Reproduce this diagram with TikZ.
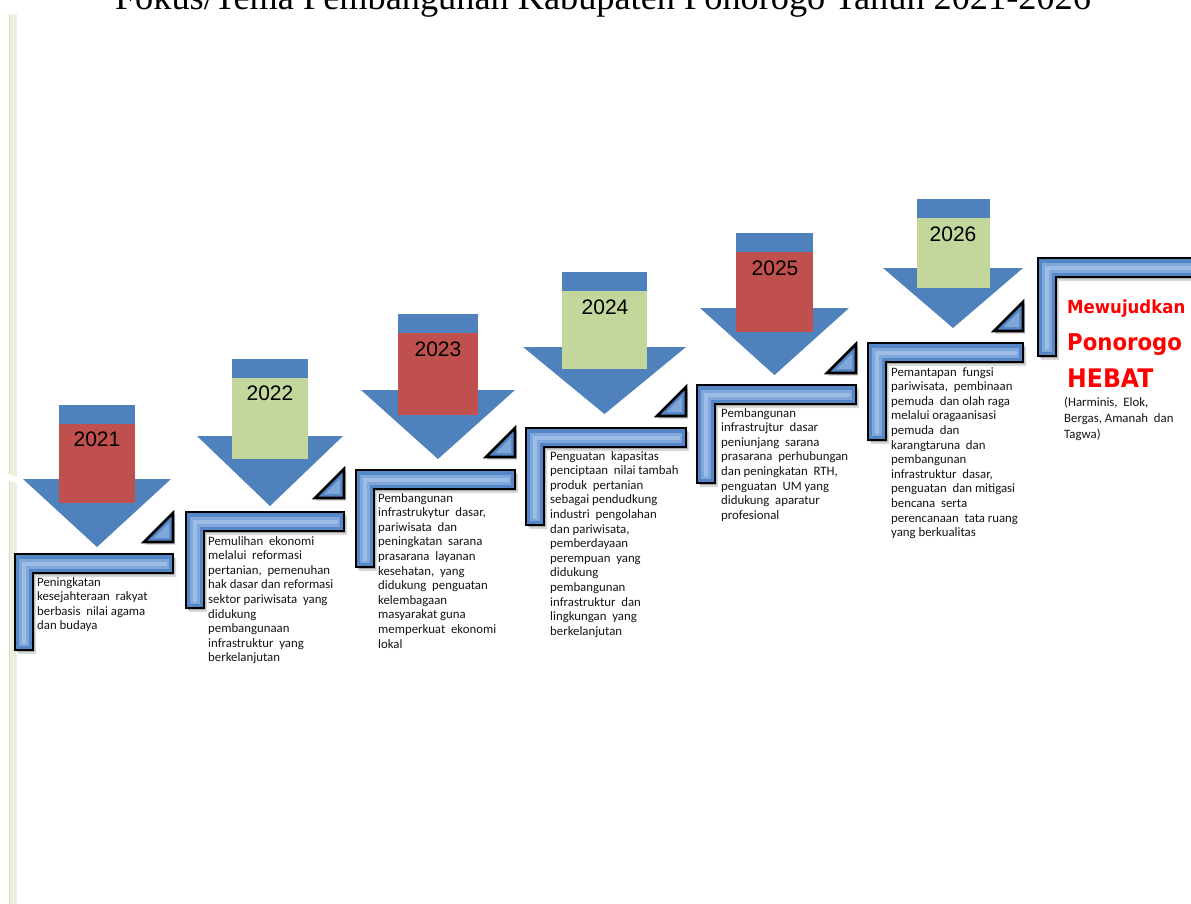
\documentclass[tikz,border=0pt]{standalone}
\usepackage{fontspec}
\setmainfont{Liberation Serif}
\newfontfamily\descfont{Carlito}
\newfontfamily\yearfont{Liberation Sans}
\newfontfamily\redfont[FakeStretch=0.92]{DejaVu Sans}
\definecolor{abl}{HTML}{4F81BD}
\definecolor{ared}{HTML}{C0504D}
\definecolor{agreen}{HTML}{C3D69B}
\definecolor{lblue}{HTML}{5587C8}
\definecolor{lmid}{HTML}{80A7DA}
\definecolor{llight}{HTML}{A6C3EA}
\definecolor{barfill}{HTML}{EBF1DE}
\definecolor{baredge}{HTML}{D4E0BC}
\definecolor{dtext}{HTML}{141414}
\definecolor{hred}{HTML}{FF0000}
\tikzset{
  shaft/.style={fill=abl, draw=none},
  redbox/.style={fill=ared, draw=none},
  greenbox/.style={fill=agreen, draw=none},
  lbody/.style={fill=lblue, draw=black, line width=2.6pt, line join=miter},
  lhigh/.style={draw=lmid, line width=10pt, line join=miter},
  lhightwo/.style={draw=llight, line width=4pt, line join=miter, opacity=.8},
  shadowA/.style={fill=black, opacity=.14, draw=none},
  shadowB/.style={fill=black, opacity=.22, draw=none},
  desc/.style={anchor=north west, inner sep=0pt, align=left, text=dtext,
    font=\descfont\fontsize{12.8}{14.6}\selectfont},
  yearlbl/.style={anchor=base, inner sep=0pt, text=black,
    font=\yearfont\fontsize{21}{24}\selectfont},
  hebat/.style={anchor=base west, inner sep=0pt, text=hred},
}
% L-shaped frame: #1 x0, #2 y0 (outer top-left), #3 right end x, #4 bottom y
\newcommand\LFrame[4]{%
  \fill[shadowA] ({#1+3},{#2+4}) -- ({#3+3},{#2+4}) -- ({#3+3},{#2+23}) -- ({#1+21},{#2+23}) -- ({#1+21},{#4+4}) -- ({#1+3},{#4+4}) -- cycle;
  \fill[shadowB] ({#1+1.5},{#2+2}) -- ({#3+1.5},{#2+2}) -- ({#3+1.5},{#2+21}) -- ({#1+19.5},{#2+21}) -- ({#1+19.5},{#4+2}) -- ({#1+1.5},{#4+2}) -- cycle;
  \filldraw[lbody] (#1,#2) -- (#3,#2) -- (#3,{#2+19}) -- ({#1+18},{#2+19}) -- ({#1+18},#4) -- (#1,#4) -- cycle;
  \draw[lhigh] ({#3-4},{#2+9.5}) -- ({#1+9},{#2+9.5}) -- ({#1+9},{#4-4});
  \draw[lhightwo] ({#3-6},{#2+9.5}) -- ({#1+9},{#2+9.5}) -- ({#1+9},{#4-6});
}
% corner triangle: #1 right x, #2 base y
\newcommand\CornerTri[2]{%
  \fill[shadowB] ({#1-28},{#2+2.5}) -- ({#1+2},{#2+2.5}) -- ({#1+2},{#2-27}) -- cycle;
  \filldraw[lbody] ({#1-29},#2) -- (#1,#2) -- (#1,{#2-29}) -- cycle;
  \fill[lmid] ({#1-19.3},{#2-4}) -- ({#1-4},{#2-4}) -- ({#1-4},{#2-19.3}) -- cycle;
}
% year arrow: #1 box left, #2 box right, #3 stem top, #4 box bottom,
% #5 triangle top, #6 tri left, #7 tri right, #8 tip y, #9 box style
\newcommand\YearArrow[9]{%
  \fill[shaft] (#1,#3) rectangle (#2,#5);
  \fill[shaft] (#6,#5) -- (#7,#5) -- ({(#6+#7)/2},#8) -- cycle;
  \fill[#9] (#1,{#3+19}) rectangle (#2,#4);
}
\begin{document}
\begin{tikzpicture}[x=1pt,y=-1pt]
\useasboundingbox (0,0) rectangle (1191,904);
\clip (0,0) rectangle (1191,904);
\fill[white] (0,0) rectangle (1191,904);

% title
\node[anchor=base, inner sep=0pt, font=\fontsize{36.3}{40}\selectfont] (title) at (603,10)
  {Fokus/Tema Pembangunan Kabupaten Ponorogo Tahun 2021-2026};

% left bar
\fill[barfill] (9,14) rectangle (17,904);
\draw[baredge, line width=1pt] (9.5,14) -- (9.5,904);
\fill[white] (9,474) -- (23,479) -- (16,483) -- (9,481) -- cycle;

% arrows
\YearArrow{59}{135}{405}{503}{479}{23}{171}{547}{redbox}
\YearArrow{232}{308}{359}{459}{436}{197}{343}{506}{greenbox}
\YearArrow{398}{478}{314}{415}{390}{361}{515}{459}{redbox}
\YearArrow{562}{647}{272}{369}{347}{523}{686}{414}{greenbox}
\YearArrow{736}{813}{233}{332}{308}{700}{849}{375}{redbox}
\YearArrow{917}{990}{199}{288}{268}{883}{1023}{328}{greenbox}

\node[yearlbl] (y2021) at (97,446) {2021};
\node[yearlbl] (y2022) at (270,400) {2022};
\node[yearlbl] (y2023) at (438,356) {2023};
\node[yearlbl] (y2024) at (605,314) {2024};
\node[yearlbl] (y2025) at (775,275) {2025};
\node[yearlbl] (y2026) at (953,241) {2026};

% frames and corner triangles
\LFrame{15}{554}{173}{650}
\CornerTri{173}{542}
\LFrame{186}{512}{344}{608}
\CornerTri{344}{498}
\LFrame{356}{470}{515}{567}
\CornerTri{515}{457}
\LFrame{526}{428}{686}{525}
\CornerTri{686}{416}
\LFrame{697}{385}{856}{483}
\CornerTri{856}{373}
\LFrame{868}{343}{1023}{440}
\CornerTri{1023}{331}
\LFrame{1038}{258}{1215}{356}

% descriptions
\node[desc] (d2021) at (37,577) {Peningkatan\\kesejahteraan\ \ rakyat\\berbasis\ \ nilai agama\\dan budaya};
\node[desc] (d2022) at (208,536) {Pemulihan\ \ ekonomi\\melalui\ \ reformasi\\pertanian,\ \ pemenuhan\\hak dasar dan reformasi\\sektor pariwisata\ \ yang\\didukung\\pembangunaan\\infrastruktur\ \ yang\\berkelanjutan};
\node[desc] (d2023) at (378,493) {Pembangunan\\infrastrukytur\ \ dasar,\\pariwisata\ \ dan\\peningkatan\ \ sarana\\prasarana\ \ layanan\\kesehatan,\ \ yang\\didukung\ \ penguatan\\kelembagaan\\masyarakat guna\\memperkuat\ \ ekonomi\\lokal};
\node[desc] (d2024) at (550,451) {Penguatan\ \ kapasitas\\penciptaan\ \ nilai tambah\\produk\ \ pertanian\\sebagai pendudkung\\industri\ \ pengolahan\\dan pariwisata,\\pemberdayaan\\perempuan\ \ yang\\didukung\\pembangunan\\infrastruktur\ \ dan\\lingkungan\ \ yang\\berkelanjutan};
\node[desc] (d2025) at (721,408) {Pembangunan\\infrastrujtur\ \ dasar\\peniunjang\ \ sarana\\prasarana\ \ perhubungan\\dan peningkatan\ \ RTH,\\penguatan\ \ UM yang\\didukung\ \ aparatur\\profesional};
\node[desc] (d2026) at (891,367) {Pemantapan\ \ fungsi\\pariwisata,\ \ pembinaan\\pemuda\ \ dan olah raga\\melalui oragaanisasi\\pemuda\ \ dan\\karangtaruna\ \ dan\\pembangunan\\infrastruktur\ \ dasar,\\penguatan\ \ dan mitigasi\\bencana\ \ serta\\perencanaan\ \ tata ruang\\yang berkualitas};

% goal
\node[hebat, font=\redfont\bfseries\fontsize{18}{20}\selectfont] (mew) at (1067,313) {Mewujudkan};
\node[hebat, font=\redfont\bfseries\fontsize{23.1}{25}\selectfont] (pon) at (1067,350) {Ponorogo};
\node[hebat, font=\redfont\bfseries\fontsize{25.6}{28}\selectfont] (heb) at (1067,387) {HEBAT};
\node[desc, font=\descfont\fontsize{12.8}{16}\selectfont] (harm) at (1064,397) {(Harminis,\ \ Elok,\\Bergas, Amanah\ \ dan\\Tagwa)};
\end{tikzpicture}
\end{document}
